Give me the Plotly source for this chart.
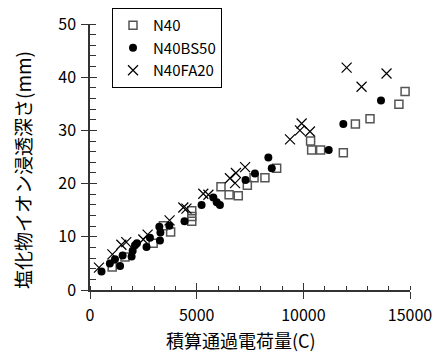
import plotly.graph_objects as go

# N40 (open squares)
n40_x = [1040, 1640, 2960, 3440, 3780, 4770, 4770, 4770, 6140, 6520, 6950, 7375, 7690, 8200, 8750,
         10340, 10390, 10810, 11875, 12440, 13125, 14480, 14770]
n40_y = [4.3, 6.2, 8.8, 12.1, 10.9, 12.9, 13.8, 14.9, 19.4, 17.9, 17.7, 19.7, 21.1, 21.1, 22.9,
         28.0, 26.3, 26.3, 25.8, 31.2, 32.2, 34.9, 37.3]

# N40BS50 (filled circles)
bs_x = [540, 930, 1170, 1410, 1530, 1950, 2000, 2110, 2200, 2650, 2810, 3250, 3300, 3280, 3720,
        4430, 5230, 5780, 5940, 6090, 7290, 7730, 8360, 8520, 11190, 11875, 13640]
bs_y = [3.5, 5.0, 5.8, 4.5, 6.5, 6.3, 7.4, 8.4, 8.8, 8.1, 9.8, 11.9, 10.8, 9.3, 12.1,
        12.9, 16.0, 17.4, 16.5, 16.0, 20.7, 21.9, 24.9, 22.9, 26.3, 31.2, 35.6]

# N40FA20 (crosses)
fa_x = [420, 1050, 1470, 1700, 2500, 2700, 3730, 4375, 4520, 5310, 5550, 6560, 6800, 6840, 7270,
        9375, 9840, 9920, 10310, 12030, 12730, 13900]
fa_y = [4.2, 6.7, 8.5, 9.0, 9.5, 10.4, 13.1, 15.5, 15.3, 18.1, 17.9, 21.0, 20.1, 22.0, 23.1,
        28.3, 30.0, 31.3, 29.8, 41.8, 38.2, 40.7]

series_names = ["N40", "N40BS50", "N40FA20"]
x_ticks = [0, 5000, 10000, 15000]
y_ticks = [0, 10, 20, 30, 40, 50]
x_title = "積算通過電荷量(C)"
y_title = "塩化物イオン浸透深さ(mm)"

FONT = "Noto Sans CJK JP"
AX = "#333333"

fig = go.Figure()
fig.add_trace(go.Scatter(x=n40_x, y=n40_y, mode="markers", name=series_names[0],
                         marker=dict(symbol="square-open", size=8, color="#555555",
                                     line=dict(width=1.5, color="#555555"))))
fig.add_trace(go.Scatter(x=bs_x, y=bs_y, mode="markers", name=series_names[1],
                         marker=dict(symbol="circle", size=8, color="black")))
fig.add_trace(go.Scatter(x=fa_x, y=fa_y, mode="markers", name=series_names[2],
                         marker=dict(symbol="x-thin-open", size=10, color="black",
                                     line=dict(width=1.2, color="black"))))
# helper trace for the inner half of the crossing major ticks
fig.add_trace(go.Scatter(x=[], y=[], xaxis="x2", yaxis="y2", showlegend=False, hoverinfo="skip"))

fig.update_layout(
    width=437, height=353,
    margin=dict(l=90, r=27, t=24, b=63, autoexpand=False),
    plot_bgcolor="white", paper_bgcolor="white",
    font=dict(family=FONT, size=16, color="black"),
    showlegend=True,
    legend=dict(xref="container", yref="container",
                x=112 / 437, y=1 - 8 / 353, xanchor="left", yanchor="top",
                bordercolor="black", borderwidth=1, bgcolor="white",
                font=dict(family=FONT, size=15, color="black"),
                itemwidth=30, tracegroupgap=0),
    xaxis=dict(range=[0, 15000], tickvals=x_ticks, ticktext=[str(v) for v in x_ticks],
               showgrid=False, zeroline=False, showline=True, linecolor=AX, linewidth=1.5,
               ticks="outside", ticklen=7, tickcolor=AX, tickwidth=1.2, ticklabelstandoff=3,
               minor=dict(dtick=1000, ticks="inside", ticklen=4, tickcolor=AX, tickwidth=1),
               tickfont=dict(family=FONT, size=16)),
    yaxis=dict(range=[0, 50], tickvals=y_ticks, ticktext=[str(v) for v in y_ticks],
               showgrid=False, zeroline=False, showline=True, linecolor=AX, linewidth=1.5,
               ticks="outside", ticklen=7, tickcolor=AX, tickwidth=1.2, ticklabelstandoff=2,
               minor=dict(dtick=2, ticks="inside", ticklen=6, tickcolor=AX, tickwidth=1),
               tickfont=dict(family=FONT, size=16)),
    xaxis2=dict(overlaying="x", range=[0, 15000], tickvals=x_ticks, showticklabels=False,
                showgrid=False, zeroline=False, showline=False,
                ticks="inside", ticklen=7, tickcolor=AX, tickwidth=1.2),
    yaxis2=dict(overlaying="y", range=[0, 50], tickvals=y_ticks, showticklabels=False,
                showgrid=False, zeroline=False, showline=False,
                ticks="inside", ticklen=7, tickcolor=AX, tickwidth=1.2),
    annotations=[
        dict(text=x_title, xref="paper", yref="paper", x=0.473, y=-0.187,
             xanchor="center", yanchor="middle", showarrow=False,
             font=dict(family=FONT, size=18, color="black")),
        dict(text=y_title, xref="paper", yref="paper", x=-0.2125, y=0.451,
             xanchor="center", yanchor="middle", textangle=-90, showarrow=False,
             font=dict(family=FONT, size=19, color="black")),
    ],
)

fig.write_html("out.html", post_script="document.body.style.margin='0';",
               config={"displayModeBar": False})
